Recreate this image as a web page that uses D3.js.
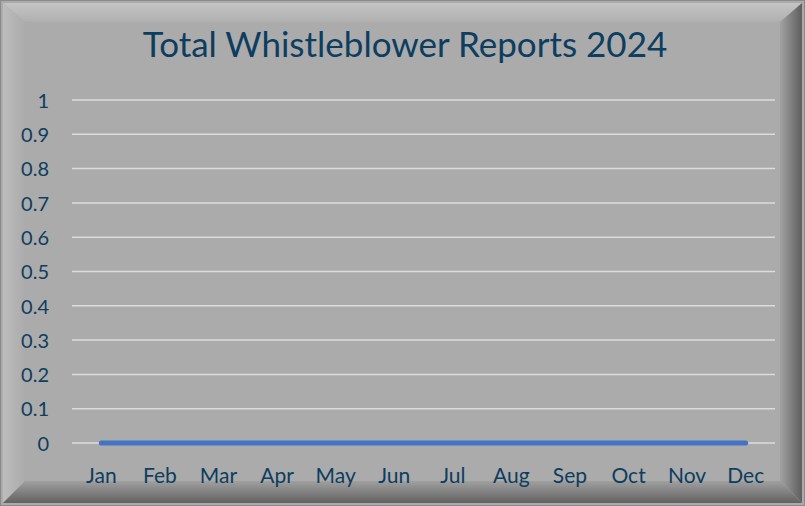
<!DOCTYPE html>
<html><head><meta charset="utf-8">
<script src="https://cdn.jsdelivr.net/npm/d3@7"></script>
<style>html,body{margin:0;padding:0;background:#fff;}svg{display:block;}</style>
</head><body>
<script>
const months = ["Jan","Feb","Mar","Apr","May","Jun","Jul","Aug","Sep","Oct","Nov","Dec"];
const reports = [0,0,0,0,0,0,0,0,0,0,0,0];
const yTicks = [0,0.1,0.2,0.3,0.4,0.5,0.6,0.7,0.8,0.9,1];
const title = "Total Whistleblower Reports 2024";

(function(){
const W = 805, H = 506;
const svg = d3.select("body").append("svg").attr("width", W).attr("height", H);
const defs = svg.append("defs");
function grad(id, x1,y1,x2,y2, stops){
  const g = defs.append("linearGradient").attr("id", id).attr("x1",x1).attr("y1",y1).attr("x2",x2).attr("y2",y2);
  stops.forEach(s=>g.append("stop").attr("offset",s[0]).attr("stop-color",s[1]));
}
grad("gTop","0","0","0","1",[["0","#c4c4c4"],["1","#b0b0b0"]]);
grad("gLeft","0","0","1","0",[["0","#bdbdbd"],["1","#ababab"]]);
grad("gRight","0","0","1","0",[["0","#a2a2a2"],["1","#5e5e5e"]]);
grad("gBot","0","0","0","1",[["0","#a0a0a0"],["1","#626262"]]);

svg.append("rect").attr("x",0).attr("y",0).attr("width",W).attr("height",H).attr("fill","#ababab");
const b = 22, bx = 3;
svg.append("polygon").attr("points",`${bx},${bx} ${W-bx},${bx} ${W-bx-b},${b} ${bx+b},${b}`).attr("fill","url(#gTop)");
svg.append("polygon").attr("points",`${bx},${bx} ${bx+b},${b} ${bx+b},${H-bx-b} ${bx},${H-bx}`).attr("fill","url(#gLeft)");
svg.append("polygon").attr("points",`${W-bx},${bx} ${W-bx},${H-bx} ${W-bx-b},${H-bx-b} ${W-bx-b},${b}`).attr("fill","url(#gRight)");
svg.append("polygon").attr("points",`${bx},${H-bx} ${bx+b},${H-bx-b} ${W-bx-b},${H-bx-b} ${W-bx},${H-bx}`).attr("fill","url(#gBot)");
svg.append("rect").attr("x",0.5).attr("y",0.5).attr("width",W-1).attr("height",H-1).attr("fill","none").attr("stroke","#8a8a8a");
svg.append("rect").attr("x",bx+b).attr("y",b).attr("width",W-2*(bx+b)).attr("height",H-bx-b-b).attr("fill","#ababab");

const pLeft = 72, pRight = 775, pTop = 100, pBottom = 443;
const x = d3.scaleBand().domain(months).range([pLeft, pRight]);
const y = d3.scaleLinear().domain([0,1]).range([pBottom, pTop]);

const font = "Lato, 'Open Sans', sans-serif";
const txt = "#0d3d5f";

svg.append("text").attr("x",405).attr("y",57).attr("text-anchor","middle")
  .style("font-family",font).style("font-size","35px").attr("fill",txt).text(title);

svg.append("g").selectAll("line").data(yTicks).join("line")
  .attr("x1",pLeft).attr("x2",pRight).attr("y1",d=>y(d)).attr("y2",d=>y(d))
  .attr("stroke","#dcdcdc").attr("stroke-width",1.5);

const yAxis = d3.axisLeft(y).tickValues(yTicks).tickSize(0).tickPadding(0).tickFormat(d=>d3.format("~g")(d));
const ya = svg.append("g").attr("transform",`translate(49,0)`).call(yAxis);
ya.select(".domain").remove();
ya.selectAll("text").style("font-family",font).style("font-size","20px").attr("fill",txt).attr("dy","0.36em");

const xAxis = d3.axisBottom(x).tickSize(0).tickPadding(0);
const xa = svg.append("g").attr("transform",`translate(0,483)`).call(xAxis);
xa.select(".domain").remove();
xa.selectAll("text").style("font-family",font).style("font-size","21px").attr("fill",txt).attr("y",0).attr("dy",0);

const line = d3.line().x((d,i)=>x(months[i])+x.bandwidth()/2).y(d=>y(d));
svg.append("path").datum(reports).attr("d",line).attr("fill","none")
  .attr("stroke","#4472c4").attr("stroke-width",5).attr("stroke-linecap","round");
})();
</script>
</body></html>
